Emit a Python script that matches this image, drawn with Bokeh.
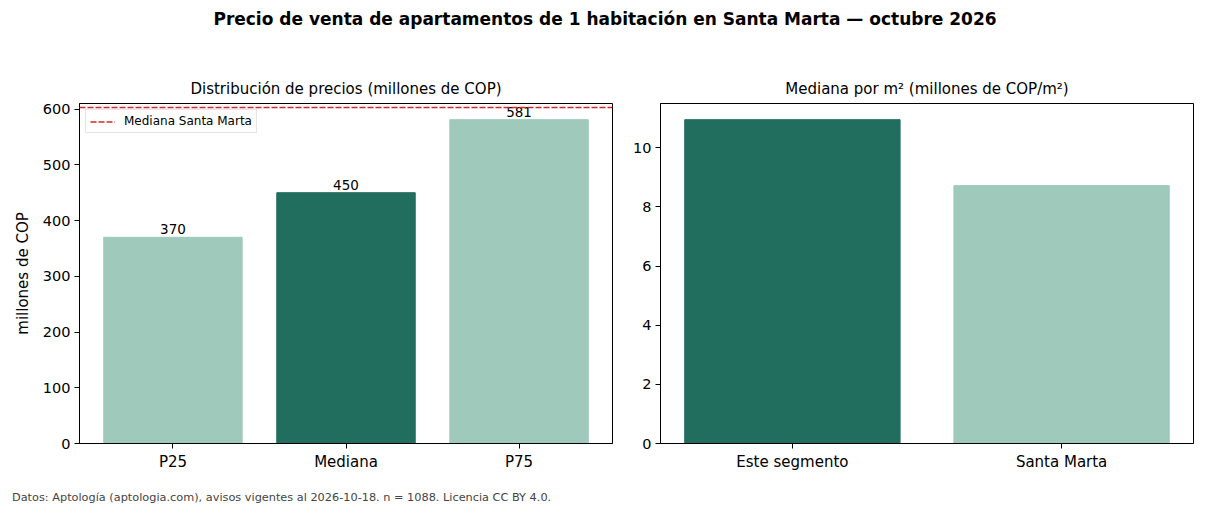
from bokeh.plotting import figure
from bokeh.layouts import column, row
from bokeh.models import (ColumnDataSource, FactorRange, Range1d, FixedTicker,
                          Span, Legend, LegendItem, Div, LabelSet)
from bokeh.core.properties import value
from bokeh.embed import file_html
from bokeh.resources import INLINE

# --- data -------------------------------------------------------------
price_labels = ["P25", "Mediana", "P75"]
price_values = [370, 450, 581]          # millones de COP
city_median_price = 603                 # Mediana Santa Marta

m2_labels = ["Este segmento", "Santa Marta"]
m2_values = [10.95, 8.72]               # millones de COP/m²

left_ticks = [0, 100, 200, 300, 400, 500, 600]
right_ticks = [0, 2, 4, 6, 8, 10]

DARK = "#216e5f"
LIGHT = "#9ec9bb"
RED = "#d62728"
FONT = "DejaVu Sans"

main_title = "Precio de venta de apartamentos de 1 habitación en Santa Marta — octubre 2026"
footer = "Datos: Aptología (aptologia.com), avisos vigentes al 2026-10-18. n = 1088. Licencia CC BY 4.0."


def style(p, ticks):
    p.outline_line_color = "black"
    p.outline_line_width = 1
    p.xgrid.grid_line_color = None
    p.ygrid.grid_line_color = None
    p.yaxis.ticker = FixedTicker(ticks=ticks)
    for ax in (p.xaxis[0], p.yaxis[0]):
        ax.axis_line_color = "black"
        ax.major_tick_in = 0
        ax.major_tick_out = 5
        ax.minor_tick_line_color = None
        ax.major_label_text_font = FONT
        ax.major_label_text_color = "black"
        ax.major_label_standoff = 4
    p.xaxis.major_label_text_font_size = "15px"
    p.yaxis.major_label_text_font_size = "14.5px"
    p.title.text_font = FONT
    p.title.text_font_size = "15px"
    p.title.text_font_style = "normal"
    p.title.text_color = "black"
    p.title.align = "center"
    p.title.standoff = 11


# --- left: price distribution -------------------------------------------
src_l = ColumnDataSource(dict(
    cat=price_labels, val=price_values,
    color=[LIGHT, DARK, LIGHT],
    txt=[str(v) for v in price_values],
))
p1 = figure(x_range=FactorRange(*price_labels, range_padding=0.04,
                                range_padding_units="absolute"),
            y_range=Range1d(0, max(price_values) * 1.05),
            width=620, height=420, output_backend="svg", toolbar_location=None,
            min_border_left=79, min_border_right=8, min_border_top=43,
            min_border_bottom=37,
            title="Distribución de precios (millones de COP)")
p1.vbar(x="cat", top="val", width=0.8, color="color", source=src_l)
p1.add_layout(LabelSet(x="cat", y="val", text="txt", source=src_l,
                       text_align="center", text_baseline="bottom", y_offset=3,
                       text_font=value(FONT), text_font_size=value("13.5px"),
                       text_color="black"))
p1.add_layout(Span(location=city_median_price, dimension="width",
                   line_color=RED, line_dash="6 2", line_width=1.4))
# legend entry for the city median line (drawn below the visible range)
key = p1.line(x=["P25", "P75"], y=[-100, -100], line_color=RED,
              line_dash="6 2", line_width=1.4)
legend = Legend(items=[LegendItem(label="Mediana Santa Marta", renderers=[key])],
                location="top_left", label_text_font=FONT,
                label_text_font_size="12px", label_text_color="black",
                glyph_width=25, glyph_height=13,
                label_standoff=9, padding=4, margin=6, spacing=0,
                border_line_color="#cccccc", border_line_width=1,
                background_fill_alpha=0.85, label_height=13)
p1.add_layout(legend)
style(p1, left_ticks)
p1.yaxis.axis_label = "millones de COP"
p1.yaxis.axis_label_text_font = FONT
p1.yaxis.axis_label_text_font_size = "15px"
p1.yaxis.axis_label_text_font_style = "normal"
p1.yaxis.axis_label_text_color = "black"
p1.yaxis.axis_label_standoff = 8

# --- right: median per m² ----------------------------------------------
src_r = ColumnDataSource(dict(cat=m2_labels, val=m2_values, color=[DARK, LIGHT]))
p2 = figure(x_range=FactorRange(*m2_labels, range_padding=-0.01,
                                range_padding_units="absolute"),
            y_range=Range1d(0, max(m2_values) * 1.05),
            width=590, height=420, output_backend="svg", toolbar_location=None,
            min_border_left=40, min_border_right=17, min_border_top=43,
            min_border_bottom=37,
            title="Mediana por m² (millones de COP/m²)")
p2.vbar(x="cat", top="val", width=0.8, color="color", source=src_r)
style(p2, right_ticks)

# --- page ----------------------------------------------------------------
head = Div(text=main_title, width=1210, height=60, margin=0,
           styles={"text-align": "center", "font-family": FONT,
                   "font-size": "17px", "font-weight": "bold",
                   "padding-top": "7px", "width": "1210px", "color": "black"})
foot = Div(text=footer, width=1210, height=26, margin=0,
           styles={"font-family": FONT, "font-size": "11.3px", "color": "#444444",
                   "padding-left": "12px", "padding-top": "10px"})
layout = column(head, row(p1, p2, spacing=0), foot, spacing=0)

open("out.html", "w").write(file_html(layout, INLINE))
